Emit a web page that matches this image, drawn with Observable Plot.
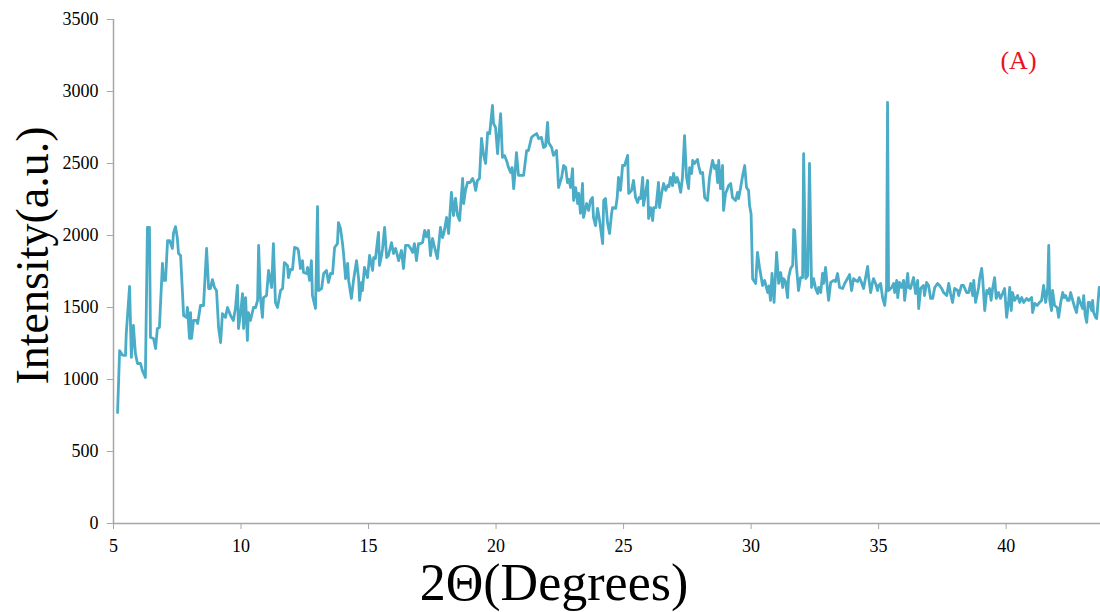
<!DOCTYPE html>
<html>
<head>
<meta charset="utf-8">
<script src="https://cdn.jsdelivr.net/npm/d3@7"></script>
<script src="https://cdn.jsdelivr.net/npm/@observablehq/plot@0.6"></script>
<style>
  html, body { margin: 0; padding: 0; background: #fff; }
  #chart svg { display: block; overflow: visible; }
</style>
</head>
<body>
<div id="chart"></div>
<script>
const angle = [
5.16,5.24,5.35,5.47,5.50,5.63,5.70,5.78,5.86,5.94,6.06,6.13,6.25,6.33,6.41,6.45,6.57,6.65,6.72,6.80,
6.92,6.96,7.04,7.12,7.20,7.31,7.35,7.43,7.50,7.55,7.63,7.70,7.75,7.86,7.90,7.98,8.02,8.06,8.14,8.25,
8.30,8.41,8.53,8.65,8.73,8.80,8.88,8.96,9.04,9.12,9.20,9.27,9.39,9.47,9.59,9.70,9.78,9.86,9.90,9.98,
10.06,10.10,10.18,10.25,10.29,10.37,10.49,10.57,10.65,10.69,10.76,10.84,10.88,11.00,11.08,11.20,11.27,11.35,11.43,11.55,
11.63,11.70,11.82,11.86,11.94,12.02,12.10,12.22,12.25,12.33,12.41,12.45,12.57,12.61,12.69,12.76,12.80,12.92,13.00,13.04,
13.16,13.24,13.35,13.43,13.51,13.59,13.67,13.78,13.82,13.90,13.98,14.02,14.10,14.18,14.22,14.33,14.41,14.53,14.61,14.65,
14.73,14.76,14.84,14.96,15.04,15.16,15.20,15.27,15.39,15.43,15.51,15.55,15.63,15.71,15.78,15.90,15.98,16.06,16.18,16.29,
16.37,16.45,16.57,16.65,16.73,16.80,16.88,16.96,17.04,17.12,17.20,17.27,17.35,17.43,17.51,17.59,17.70,17.82,17.90,17.96,
18.06,18.14,18.25,18.33,18.41,18.49,18.57,18.69,18.73,18.80,18.88,18.98,19.08,19.14,19.20,19.27,19.35,19.43,19.51,19.59,
19.67,19.75,19.86,19.90,19.98,20.06,20.10,20.18,20.25,20.33,20.41,20.49,20.57,20.63,20.69,20.73,20.80,20.88,20.98,21.08,
21.20,21.27,21.39,21.47,21.59,21.67,21.78,21.86,21.94,22.02,22.06,22.18,22.25,22.37,22.41,22.45,22.57,22.65,22.73,22.80,
22.86,22.92,23.00,23.04,23.12,23.20,23.24,23.31,23.39,23.43,23.55,23.63,23.70,23.78,23.82,23.90,23.98,24.06,24.18,24.22,
24.29,24.37,24.45,24.53,24.57,24.69,24.75,24.80,24.88,24.96,25.04,25.16,25.20,25.31,25.39,25.47,25.55,25.61,25.67,25.75,
25.78,25.86,25.94,25.98,26.06,26.14,26.18,26.27,26.37,26.41,26.49,26.57,26.65,26.73,26.78,26.84,26.92,26.96,27.04,27.10,
27.16,27.24,27.31,27.39,27.47,27.55,27.59,27.67,27.71,27.78,27.90,27.94,28.02,28.10,28.18,28.29,28.37,28.45,28.49,28.57,
28.63,28.69,28.73,28.80,28.88,28.92,29.00,29.12,29.20,29.27,29.39,29.47,29.51,29.59,29.67,29.75,29.82,29.90,29.94,30.00,
30.06,30.18,30.25,30.33,30.45,30.53,30.65,30.70,30.76,30.82,30.90,31.00,31.08,31.16,31.24,31.27,31.35,31.43,31.47,31.55,
31.63,31.67,31.71,31.78,31.86,31.94,32.02,32.06,32.14,32.22,32.29,32.37,32.45,32.53,32.61,32.65,32.73,32.80,32.84,32.92,
33.00,33.04,33.12,33.24,33.31,33.39,33.47,33.59,33.67,33.78,33.86,33.94,34.02,34.10,34.18,34.25,34.33,34.41,34.49,34.57,
34.61,34.69,34.76,34.80,34.88,34.96,35.00,35.08,35.16,35.24,35.31,35.35,35.39,35.51,35.59,35.63,35.71,35.75,35.82,35.90,
35.98,36.02,36.14,36.18,36.25,36.37,36.45,36.53,36.57,36.65,36.76,36.80,36.88,36.96,37.04,37.12,37.20,37.31,37.39,37.47,
37.55,37.67,37.75,37.82,37.90,37.98,38.10,38.14,38.25,38.33,38.45,38.53,38.61,38.69,38.73,38.80,38.92,38.96,39.04,39.08,
39.16,39.24,39.29,39.35,39.41,39.47,39.55,39.61,39.70,39.78,39.86,39.94,40.02,40.10,40.14,40.20,40.25,40.33,40.45,40.53,
40.61,40.69,40.80,40.88,41.00,41.04,41.12,41.22,41.31,41.39,41.47,41.55,41.63,41.67,41.71,41.78,41.82,41.90,42.00,42.06,
42.14,42.22,42.27,42.33,42.41,42.47,42.53,42.61,42.69,42.76,42.84,42.92,43.00,43.04,43.10,43.16,43.22,43.27,43.35,43.39,
43.43,43.51,43.55,43.65
];
const intensity = [
771,1200,1170,1167,1319,1646,1153,1375,1180,1111,1111,1063,1014,2056,2056,1292,1285,1215,1354,1361,
1806,1688,1688,1965,1965,1910,2014,2062,1986,1875,1861,1618,1444,1431,1500,1285,1465,1285,1410,1410,
1389,1514,1514,1910,1632,1632,1694,1639,1618,1361,1257,1458,1431,1500,1444,1410,1493,1653,1354,1458,
1597,1354,1569,1271,1465,1410,1500,1500,1549,1931,1569,1431,1569,1583,1757,1639,1944,1535,1500,1618,
1632,1812,1792,1708,1764,1764,1917,1910,1896,1771,1826,1743,1736,1778,1688,1826,1583,1493,2201,1618,
1632,1736,1757,1674,1736,1736,1917,1944,2090,2049,1944,1875,1701,1806,1688,1563,1688,1826,1700,1549,
1674,1618,1778,1708,1861,1757,1847,1840,2021,1792,1861,1910,2056,1847,1861,1951,1875,1910,1826,1896,
1771,1931,1931,1910,1882,1944,1826,1944,1944,1951,2035,1990,2035,1861,1979,1917,1840,2056,1986,2021,
2125,2014,2299,2139,2257,2139,2104,2396,2222,2313,2368,2368,2396,2368,2313,2382,2396,2674,2560,2500,
2715,2708,2903,2778,2750,2569,2674,2847,2542,2556,2521,2472,2438,2472,2326,2403,2576,2417,2417,2417,
2590,2590,2681,2694,2708,2674,2681,2611,2620,2785,2646,2611,2556,2590,2472,2333,2403,2486,2472,2368,
2390,2333,2465,2243,2333,2222,2292,2153,2361,2125,2222,2174,2243,2264,2125,2069,2188,2104,1944,2243,
2257,2090,2014,2153,2194,2188,2264,2403,2313,2486,2486,2556,2292,2313,2382,2264,2229,2264,2257,2403,
2208,2292,2382,2118,2194,2104,2194,2194,2368,2194,2292,2361,2313,2347,2340,2403,2347,2431,2368,2403,
2368,2299,2403,2694,2403,2326,2472,2431,2521,2500,2528,2486,2431,2438,2264,2243,2403,2486,2521,2465,
2486,2368,2521,2326,2486,2174,2292,2347,2361,2264,2243,2299,2257,2333,2417,2486,2333,2313,2208,2150,
1700,1667,1882,1778,1653,1688,1604,1650,1549,1736,1535,1882,1667,1743,1639,1701,1680,1569,1708,1771,
1792,2042,2035,1778,1618,1708,1708,2569,1701,1722,2500,1639,1701,1632,1597,1639,1604,1736,1667,1778,
1618,1549,1674,1688,1680,1736,1639,1632,1667,1701,1729,1618,1701,1688,1680,1708,1674,1632,1708,1785,
1708,1604,1674,1701,1667,1618,1653,1667,1563,1514,1639,2924,1618,1639,1667,1604,1688,1569,1674,1639,
1688,1549,1736,1639,1632,1708,1597,1688,1493,1632,1653,1583,1674,1653,1563,1563,1639,1667,1653,1632,
1604,1583,1667,1597,1535,1632,1618,1583,1653,1653,1604,1604,1667,1583,1688,1535,1639,1701,1771,1701,
1479,1618,1597,1632,1549,1632,1708,1563,1604,1563,1597,1632,1431,1549,1639,1479,1604,1549,1583,1535,
1569,1535,1563,1549,1569,1465,1528,1514,1535,1549,1653,1535,1639,1931,1549,1479,1618,1514,1500,1431,
1535,1604,1569,1583,1549,1549,1604,1549,1500,1465,1569,1528,1493,1583,1444,1396,1535,1535,1479,1549,
1465,1431,1424,1639
];
const xTicks = [5, 10, 15, 20, 25, 30, 35, 40];
const yTicks = [0, 500, 1000, 1500, 2000, 2500, 3000, 3500];
const xLabel = "2Θ(Degrees)";
const yLabel = "Intensity(a.u.)";
const panelLabel = "(A)";

const data = angle.map((a, i) => ({angle: a, intensity: intensity[i]}));
const axisColor = "#a6a6a6";

const chart = Plot.plot({
  width: 1100,
  height: 612,
  marginLeft: 113,
  marginRight: 0,
  marginTop: 19,
  marginBottom: 89,
  style: {fontFamily: "'Liberation Serif', 'Times New Roman', serif", background: "white", overflow: "visible"},
  x: {domain: [5, 43.7]},
  y: {domain: [0, 3500]},
  marks: [
    Plot.axisX({ticks: xTicks, tickSize: 6, tickPadding: 10, fontSize: 18, stroke: axisColor, fill: "black", label: null, tickFormat: d => String(d)}),
    Plot.axisY({ticks: yTicks, tickSize: 6, tickPadding: 9, fontSize: 18, stroke: axisColor, fill: "black", label: null, tickFormat: d => String(d)}),
    Plot.ruleY([0], {stroke: axisColor, strokeWidth: 1.5}),
    Plot.ruleX([5], {stroke: axisColor, strokeWidth: 1.5}),
    Plot.line(data, {x: "angle", y: "intensity", stroke: "#4aacc6", strokeWidth: 2.8, strokeLinejoin: "round"}),
    Plot.text([xLabel], {frameAnchor: "bottom", textAnchor: "middle", lineAnchor: "middle", dx: -53, dy: 60, fontSize: 52, fill: "black"}),
    Plot.text([yLabel], {frameAnchor: "left", textAnchor: "middle", lineAnchor: "middle", dx: -80, dy: -16, rotate: -90, fontSize: 46, fill: "black"}),
    Plot.text([panelLabel], {frameAnchor: "top-right", textAnchor: "middle", lineAnchor: "middle", dx: -82, dy: 41, fontSize: 26, fill: "#e8141e"})
  ]
});
document.getElementById("chart").appendChild(chart);
</script>
</body>
</html>
